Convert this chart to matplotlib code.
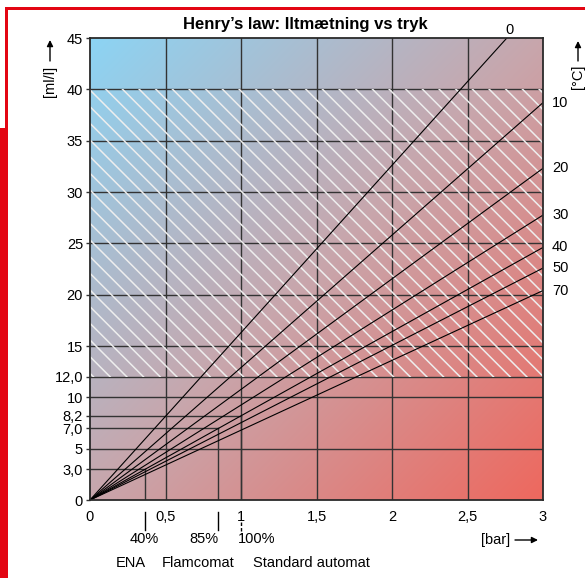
import matplotlib.pyplot as plt
import numpy as np
from matplotlib.patches import Rectangle

plt.rcParams['font.family'] = ['Liberation Sans', 'DejaVu Sans']

# temperature lines (°C) and their slope in ml/l per bar
temps = [0, 10, 20, 30, 40, 50, 70]
slopes = [16.3, 12.9, 10.77, 9.25, 8.2, 7.53, 6.8]

y_ticks = [0, 3.0, 5, 7.0, 8.2, 10, 12.0, 15, 20, 25, 30, 35, 40, 45]
y_labels = ['0', '3,0', '5', '7,0', '8,2', '10', '12,0', '15', '20', '25', '30', '35', '40', '45']
x_ticks = [0, 0.5, 1, 1.5, 2, 2.5, 3]
x_labels = ['0', '0,5', '1', '1,5', '2', '2,5', '3']
h_grid = [5, 10, 12, 15, 20, 25, 30, 35, 40]
v_grid = [0.5, 1, 1.5, 2, 2.5]

# automat working points
auto_bar = [0.366, 0.85, 1.0]
auto_val = [3.0, 7.0, 8.2]
auto_pct = ['40%', '85%', '100%']
auto_names = ['ENA', 'Flamcomat', 'Standard automat']

hatch_lo, hatch_hi = 12.0, 40

W, H = 585, 578
fig = plt.figure(figsize=(W / 100, H / 100), dpi=100)
fig.patch.set_facecolor('white')

def fx(px):
    return px / W

def fy(py):
    return 1 - py / H

red = '#e30613'
# red frame
fig.add_artist(Rectangle((fx(5), fy(10)), 1 - fx(5), 3 / H, transform=fig.transFigure, color=red, lw=0))
fig.add_artist(Rectangle((fx(5), fy(130)), 2.5 / W, 122 / H, transform=fig.transFigure, color=red, lw=0))
fig.add_artist(Rectangle((0, 0), fx(7.5), fy(128), transform=fig.transFigure, color=red, lw=0))

ax = fig.add_axes([fx(90), fy(500), 453 / W, 462 / H])
ax.set_xlim(0, 3)
ax.set_ylim(0, 45)

# gradient background (blue top-left -> red bottom-right)
nx, ny = 300, 300
u = np.linspace(0, 1, nx)[None, :]
v = np.linspace(1, 0, ny)[:, None]
t = (u + (1 - v)) / 2
c0 = np.array([140, 212, 244]) / 255
c1 = np.array([200, 166, 172]) / 255
c2 = np.array([238, 104, 94]) / 255
t3 = t[..., None]
img = np.where(t3 < 0.5, c0 + (c1 - c0) * (t3 / 0.5), c1 + (c2 - c1) * ((t3 - 0.5) / 0.5))
ax.imshow(img, extent=[0, 3, 0, 45], aspect='auto', zorder=0, interpolation='bilinear')

gc = '#333333'
for yv in h_grid:
    ax.axhline(yv, color=gc, lw=1.0, zorder=2)
for xv in v_grid:
    ax.axvline(xv, color=gc, lw=1.0, zorder=2)

for b, val in zip(auto_bar, auto_val):
    ax.plot([0, b], [val, val], color=gc, lw=1.0, zorder=2)
    ax.plot([b, b], [0, val], color=gc, lw=1.0, zorder=2)

plt.rcParams['hatch.linewidth'] = 1.1
ax.add_patch(Rectangle((0, hatch_lo), 3, hatch_hi - hatch_lo, facecolor='none',
                       edgecolor='#eeeeee', hatch='\\\\', lw=0, zorder=2.5))

# temperature lines
for tc, s in zip(temps, slopes):
    xe = min(3, 45 / s)
    ax.plot([0, xe], [0, s * xe], color='black', lw=0.8, zorder=3)
    if xe < 3:
        ax.text(xe + 0.02, 45.8, str(tc), ha='center', va='center', fontsize=10.5, clip_on=False)
    else:
        ax.text(3.06, s * 3, str(tc), ha='left', va='center', fontsize=10.5, clip_on=False)

ax.set_yticks(y_ticks)
ax.set_yticklabels(y_labels, fontsize=10.5)
ax.set_xticks(x_ticks)
ax.set_xticklabels(x_labels, fontsize=10.5)
ax.tick_params(axis='y', length=3, width=1, color=gc, pad=2)
ax.tick_params(axis='x', length=0, pad=7)
for sp in ax.spines.values():
    sp.set_color('#2a2a2a')
    sp.set_linewidth(1.3)
    sp.set_zorder(4)

# markers below the axis
for b, pct in zip(auto_bar, auto_pct):
    if pct == '100%':
        ax.plot([b, b], [-2.1, -3.3], color='black', lw=1, ls=(0, (2.5, 1.5)), clip_on=False)
    else:
        ax.plot([b, b], [-1.2, -2.9], color='black', lw=1, clip_on=False)

fig.text(fx(144), fy(539), auto_pct[0], ha='center', va='center', fontsize=10.5)
fig.text(fx(218), fy(539), auto_pct[1], ha='right', va='center', fontsize=10.5)
fig.text(fx(238), fy(539), auto_pct[2], ha='left', va='center', fontsize=10.5)
fig.text(fx(131), fy(563), auto_names[0], ha='center', va='center', fontsize=10.5)
fig.text(fx(198), fy(563), auto_names[1], ha='center', va='center', fontsize=10.5)
fig.text(fx(311), fy(563), auto_names[2], ha='center', va='center', fontsize=10.5)

fig.text(fx(305), fy(25), 'Henry’s law: Iltmætning vs tryk', ha='center', va='center',
         fontsize=12, fontweight='bold')

# axis units with arrows
fig.text(fx(50), fy(81), '[ml/l]', rotation=90, ha='center', va='center', fontsize=10.5)
fig.text(fx(578), fy(77), '[°C]', rotation=90, ha='center', va='center', fontsize=10.5)
fig.text(fx(496), fy(540), '[bar]', ha='center', va='center', fontsize=10.5)
ap = dict(arrowstyle='-|>', color='black', lw=1, mutation_scale=9, shrinkA=0, shrinkB=0)
ax.annotate('', xy=(fx(50), fy(40)), xytext=(fx(50), fy(61)), xycoords='figure fraction',
            textcoords='figure fraction', arrowprops=ap)
ax.annotate('', xy=(fx(578), fy(41)), xytext=(fx(578), fy(61)), xycoords='figure fraction',
            textcoords='figure fraction', arrowprops=ap)
ax.annotate('', xy=(fx(538), fy(540)), xytext=(fx(515), fy(540)), xycoords='figure fraction',
            textcoords='figure fraction', arrowprops=ap)

fig.savefig('out.png', dpi=100)
